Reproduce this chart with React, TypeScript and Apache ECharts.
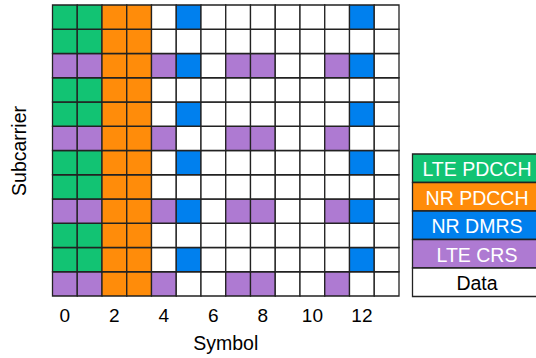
import React, { useEffect, useRef } from "react";
import * as echarts from "echarts";

// Resource element types (index into typeNames / typeColors)
const typeNames = ["LTE PDCCH", "NR PDCCH", "NR DMRS", "LTE CRS", "Data"];
const typeColors = ["#12C373", "#FF8C0A", "#0080EE", "#AE7AD2", "#FFFFFF"];
const typeTextColors = ["#FFFFFF", "#FFFFFF", "#FFFFFF", "#FFFFFF", "#000000"];

const symbols = ["0", "1", "2", "3", "4", "5", "6", "7", "8", "9", "10", "11", "12", "13"];
const subcarriers = ["0", "1", "2", "3", "4", "5", "6", "7", "8", "9", "10", "11"];

// Grid rows from top (subcarrier 11) to bottom (subcarrier 0); codes: 0 LTE PDCCH, 1 NR PDCCH, 2 NR DMRS, 3 LTE CRS, 4 Data
const row11 = [0, 0, 1, 1, 4, 2, 4, 4, 4, 4, 4, 4, 2, 4];
const row10 = [0, 0, 1, 1, 4, 4, 4, 4, 4, 4, 4, 4, 4, 4];
const row9 = [3, 3, 1, 1, 3, 2, 4, 3, 3, 4, 4, 3, 2, 4];
const row8 = [0, 0, 1, 1, 4, 4, 4, 4, 4, 4, 4, 4, 4, 4];
const row7 = [0, 0, 1, 1, 4, 2, 4, 4, 4, 4, 4, 4, 2, 4];
const row6 = [3, 3, 1, 1, 3, 4, 4, 3, 3, 4, 4, 3, 4, 4];
const row5 = [0, 0, 1, 1, 4, 2, 4, 4, 4, 4, 4, 4, 2, 4];
const row4 = [0, 0, 1, 1, 4, 4, 4, 4, 4, 4, 4, 4, 4, 4];
const row3 = [3, 3, 1, 1, 3, 2, 4, 3, 3, 4, 4, 3, 2, 4];
const row2 = [0, 0, 1, 1, 4, 4, 4, 4, 4, 4, 4, 4, 4, 4];
const row1 = [0, 0, 1, 1, 4, 2, 4, 4, 4, 4, 4, 4, 2, 4];
const row0 = [3, 3, 1, 1, 3, 4, 4, 3, 3, 4, 4, 3, 4, 4];
const rowsBottomUp = [row0, row1, row2, row3, row4, row5, row6, row7, row8, row9, row10, row11];

const FONT = "'Liberation Sans', Arial, Helvetica, sans-serif";

export default function App() {
  const ref = useRef<HTMLDivElement>(null);
  useEffect(() => {
    if (!ref.current) return;
    const chart = echarts.init(ref.current, null, { renderer: "svg" });
    const data: number[][] = [];
    rowsBottomUp.forEach((row, y) => {
      row.forEach((t, x) => data.push([x, y, t]));
    });

    const legTop = 154;
    const legH = 28.5;
    const legLeft = 412.5;
    const legW = 132;
    const legendGraphics: any[] = [];
    typeNames.forEach((name, i) => {
      legendGraphics.push({
        type: "rect",
        shape: { x: legLeft, y: legTop + i * legH, width: legW, height: legH },
        style: { fill: typeColors[i], stroke: "#222", lineWidth: 1.3 },
      });
      legendGraphics.push({
        type: "text",
        x: 477,
        y: legTop + i * legH + legH / 2 + 1,
        style: {
          text: name,
          fill: typeTextColors[i],
          font: `19.5px ${FONT}`,
          textAlign: "center",
          textVerticalAlign: "middle",
        },
      });
    });
    legendGraphics.push({
      type: "text",
      x: 19,
      y: 151,
      rotation: Math.PI / 2,
      style: {
        text: "Subcarrier",
        fill: "#000",
        font: `19.5px ${FONT}`,
        textAlign: "center",
        textVerticalAlign: "middle",
      },
    });

    chart.setOption({
      animation: false,
      backgroundColor: "#fff",
      grid: { left: 52.5, right: 137, top: 5, bottom: 61 },
      xAxis: {
        type: "category",
        data: symbols,
        boundaryGap: true,
        axisLine: { show: false },
        axisTick: { show: false },
        splitLine: { show: false },
        axisLabel: {
          interval: 1,
          color: "#000",
          fontSize: 19,
          fontFamily: FONT,
          margin: 10,
        },
        name: "Symbol",
        nameLocation: "middle",
        nameGap: 37,
        nameTextStyle: { color: "#000", fontSize: 19.5, fontFamily: FONT },
      },
      yAxis: {
        type: "category",
        data: subcarriers,
        boundaryGap: true,
        axisLine: { show: false },
        axisTick: { show: false },
        axisLabel: { show: false },
        splitLine: { show: false },
      },
      graphic: legendGraphics,
      series: [
        {
          type: "custom",
          data,
          renderItem: (params: any, api: any) => {
            const p = api.coord([api.value(0), api.value(1)]);
            const s = api.size([1, 1]);
            return {
              type: "rect",
              shape: { x: p[0] - s[0] / 2, y: p[1] - s[1] / 2, width: s[0], height: s[1] },
              style: { fill: typeColors[api.value(2)], stroke: "#222", lineWidth: 1.3 },
            };
          },
        },
      ],
    });
    return () => chart.dispose();
  }, []);
  return (
    <div
      ref={ref}
      style={{ position: "fixed", left: 0, top: 0, width: 536, height: 358 }}
    />
  );
}
